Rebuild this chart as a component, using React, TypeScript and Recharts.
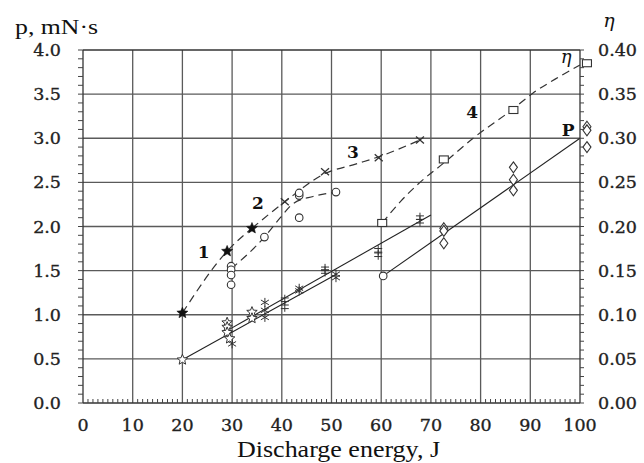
import React from 'react';
import { ComposedChart, XAxis, YAxis, Line, Scatter, ReferenceLine, ReferenceDot } from 'recharts';

// ---- η (right axis) measured points ----
const etaStars = [
  { x: 20, y: 0.102 }, { x: 29, y: 0.172 }, { x: 34, y: 0.198 },
];
const etaCircles = [
  { x: 29.8, y: 0.155 }, { x: 29.8, y: 0.151 }, { x: 29.8, y: 0.145 }, { x: 29.8, y: 0.134 },
  { x: 36.5, y: 0.188 }, { x: 43.5, y: 0.21 }, { x: 43.5, y: 0.235 }, { x: 43.5, y: 0.238 },
  { x: 50.9, y: 0.239 },
];
const etaCrosses = [
  { x: 40.6, y: 0.228 }, { x: 48.7, y: 0.262 }, { x: 59.5, y: 0.278 }, { x: 67.8, y: 0.298 },
];
const etaSquares = [
  { x: 60.2, y: 0.204 }, { x: 72.6, y: 0.276 }, { x: 86.6, y: 0.332 },
];
const etaSquaresEdge = [{ x: 101.4, y: 0.385 }];

// ---- η fitted dashed curves ----
const etaCurve1 = [
  { x: 20, y: 0.102 }, { x: 29, y: 0.172 }, { x: 34, y: 0.198 },
];
const etaCurve2 = [
  { x: 29.8, y: 0.152 }, { x: 36.5, y: 0.188 }, { x: 39.7, y: 0.21 }, { x: 42.3, y: 0.226 },
  { x: 46.3, y: 0.234 }, { x: 50.9, y: 0.239 },
];
const etaCurve3 = [
  { x: 34, y: 0.198 }, { x: 40.6, y: 0.228 }, { x: 48.7, y: 0.26 }, { x: 55, y: 0.271 },
  { x: 59.5, y: 0.279 }, { x: 67.8, y: 0.298 },
];
const etaCurve4 = [
  { x: 60.2, y: 0.204 }, { x: 64, y: 0.229 }, { x: 67.8, y: 0.25 }, { x: 72.6, y: 0.272 },
  { x: 78.5, y: 0.3 }, { x: 86.5, y: 0.333 }, { x: 90.5, y: 0.351 }, { x: 95, y: 0.367 },
  { x: 100, y: 0.383 },
];

// ---- P (left axis, mN·s) measured points ----
const pStars = [
  { x: 20, y: 0.49 }, { x: 29, y: 0.91 }, { x: 29, y: 0.86 }, { x: 29, y: 0.8 },
  { x: 29.5, y: 0.73 }, { x: 34, y: 1.03 }, { x: 34, y: 0.96 },
];
const pAsterisks = [
  { x: 30, y: 0.67 }, { x: 36.6, y: 1.14 }, { x: 36.6, y: 1.05 }, { x: 36.6, y: 0.97 },
  { x: 43.5, y: 1.3 }, { x: 43.5, y: 1.27 }, { x: 50.9, y: 1.46 }, { x: 50.9, y: 1.42 },
];
const pDaggers = [
  { x: 40.6, y: 1.17 }, { x: 40.6, y: 1.09 }, { x: 48.7, y: 1.52 }, { x: 48.7, y: 1.49 },
  { x: 59.4, y: 1.73 }, { x: 59.4, y: 1.68 }, { x: 67.8, y: 2.1 }, { x: 67.8, y: 2.06 },
];
const pCircle = [{ x: 60.4, y: 1.44 }];
const pDiamonds = [
  { x: 72.6, y: 1.98 }, { x: 72.6, y: 1.95 }, { x: 72.6, y: 1.81 },
  { x: 86.6, y: 2.67 }, { x: 86.6, y: 2.53 }, { x: 86.6, y: 2.41 },
];
const pDiamondsEdge = [
  { x: 101.4, y: 3.13 }, { x: 101.4, y: 3.09 }, { x: 101.4, y: 2.9 },
];

// ---- P fitted solid lines ----
const pLineA = [{ x: 20, y: 0.49 }, { x: 51, y: 1.46 }];
const pLineB = [{ x: 29, y: 0.82 }, { x: 70, y: 2.13 }];
const pLineC = [{ x: 60.4, y: 1.44 }, { x: 100, y: 3.0 }];

// ---- axes ----
const xMajor = [0, 10, 20, 30, 40, 50, 60, 70, 80, 90, 100];
const xTicks = Array.from({ length: 101 }, (_, i) => i);
const pMajor = [0, 0.5, 1, 1.5, 2, 2.5, 3, 3.5, 4];
const pTicks = Array.from({ length: 41 }, (_, i) => +(i * 0.1).toFixed(1));
const etaTicks = Array.from({ length: 41 }, (_, i) => +(i * 0.01).toFixed(2));

const curveLabels = [
  { x: 24.3, y: 1.71, text: '1' },
  { x: 35.2, y: 2.27, text: '2' },
  { x: 54.3, y: 2.84, text: '3' },
  { x: 78.3, y: 3.3, text: '4' },
  { x: 97.6, y: 3.09, text: 'P' },
];
const etaLabel = [{ x: 97.2, y: 3.9, text: 'η' }];

const TICK_FONT = "'DejaVu Serif', serif";
const INK = '#222';
const GRID = '#5a5a5a';

const tickTextProps = {
  fontFamily: TICK_FONT,
  fontSize: 17.5,
  fill: INK,
  stroke: INK,
  strokeWidth: 0.35,
};

const XTick = (props: any) => {
  const { x, y, payload } = props;
  const v = payload.value;
  const major = Math.round(v) % 10 === 0;
  return (
    <g>
      {!major && <line x1={x} x2={x} y1={y} y2={y - 4} stroke="#444" strokeWidth={1} />}
      {major && (
        <text x={x} y={y + 28} textAnchor="middle" {...tickTextProps}>
          {v}
        </text>
      )}
    </g>
  );
};

const LeftTick = (props: any) => {
  const { x, y, payload } = props;
  const v = payload.value;
  const major = Math.round(v * 10) % 5 === 0;
  return (
    <g>
      <line x1={x} x2={x - 5} y1={y} y2={y} stroke="#444" strokeWidth={1} />
      {major && (
        <text x={x - 22} y={y + 6} textAnchor="end" {...tickTextProps}>
          {v.toFixed(1)}
        </text>
      )}
    </g>
  );
};

const RightTick = (props: any) => {
  const { x, y, payload } = props;
  const v = payload.value;
  const major = Math.round(v * 100) % 5 === 0;
  return (
    <g>
      <line x1={x} x2={x + 4} y1={y} y2={y} stroke="#444" strokeWidth={1} />
      {major && (
        <text x={x + 18} y={y + 6} textAnchor="start" {...tickTextProps}>
          {v.toFixed(2)}
        </text>
      )}
    </g>
  );
};

const starPoints = (cx: number, cy: number, r: number) => {
  const pts: string[] = [];
  for (let i = 0; i < 10; i++) {
    const rr = i % 2 === 0 ? r : r * 0.45;
    const a = -Math.PI / 2 + (i * Math.PI) / 5;
    pts.push(`${cx + rr * Math.cos(a)},${cy + rr * Math.sin(a)}`);
  }
  return pts.join(' ');
};

const FilledStar = (p: any) => <polygon points={starPoints(p.cx, p.cy, 5.8)} fill="#111" stroke="#111" strokeWidth={0.6} />;
const OpenStar = (p: any) => <polygon points={starPoints(p.cx, p.cy, 5.5)} fill="#fff" stroke="#333" strokeWidth={1} />;
const OpenCircle = (p: any) => <circle cx={p.cx} cy={p.cy} r={3.8} fill="#fff" stroke="#333" strokeWidth={1.1} />;
const Cross = (p: any) => (
  <g stroke="#333" strokeWidth={1.3}>
    <line x1={p.cx - 4} y1={p.cy - 3.5} x2={p.cx + 4} y2={p.cy + 3.5} />
    <line x1={p.cx - 4} y1={p.cy + 3.5} x2={p.cx + 4} y2={p.cy - 3.5} />
  </g>
);
const OpenSquare = (p: any) => (
  <rect x={p.cx - 4.5} y={p.cy - 3.5} width={9} height={7} fill="#fff" stroke="#333" strokeWidth={1.1} />
);
const Asterisk = (p: any) => (
  <g stroke="#333" strokeWidth={1}>
    <line x1={p.cx} y1={p.cy - 4.5} x2={p.cx} y2={p.cy + 4.5} />
    <line x1={p.cx - 4} y1={p.cy - 2.4} x2={p.cx + 4} y2={p.cy + 2.4} />
    <line x1={p.cx - 4} y1={p.cy + 2.4} x2={p.cx + 4} y2={p.cy - 2.4} />
  </g>
);
const Dagger = (p: any) => (
  <g stroke="#333" strokeWidth={1}>
    <line x1={p.cx} y1={p.cy - 5} x2={p.cx} y2={p.cy + 5} />
    <line x1={p.cx - 4} y1={p.cy - 1.8} x2={p.cx + 4} y2={p.cy - 1.8} />
    <line x1={p.cx - 4} y1={p.cy + 1.8} x2={p.cx + 4} y2={p.cy + 1.8} />
  </g>
);
const OpenDiamond = (p: any) => (
  <polygon
    points={`${p.cx},${p.cy - 5.5} ${p.cx + 4},${p.cy} ${p.cx},${p.cy + 5.5} ${p.cx - 4},${p.cy}`}
    fill="#fff"
    stroke="#333"
    strokeWidth={1.1}
  />
);

const DASH = '8 5';

export default function App() {
  return (
    <div style={{ position: 'absolute', left: 0, top: 0, width: 644, height: 463, background: '#fff' }}>
      <ComposedChart width={644} height={463} margin={{ top: 50, right: 0, bottom: 0, left: 0 }}>
        <XAxis
          dataKey="x"
          type="number"
          domain={[0, 100]}
          ticks={xTicks}
          interval={0}
          tick={<XTick />}
          tickLine={false}
          tickSize={0}
          tickMargin={0}
          axisLine={{ stroke: '#333', strokeWidth: 1.3 }}
          height={60}
        />
        <YAxis
          yAxisId="p"
          dataKey="y"
          type="number"
          domain={[0, 4]}
          ticks={pTicks}
          interval={0}
          tick={<LeftTick />}
          tickLine={false}
          tickSize={0}
          tickMargin={0}
          axisLine={{ stroke: '#333', strokeWidth: 1.3 }}
          width={83}
        />
        <YAxis
          yAxisId="eta"
          dataKey="y"
          orientation="right"
          type="number"
          domain={[0, 0.4]}
          ticks={etaTicks}
          interval={0}
          tick={<RightTick />}
          tickLine={false}
          tickSize={0}
          tickMargin={0}
          axisLine={{ stroke: '#333', strokeWidth: 1.3 }}
          width={64}
        />

        {xMajor.slice(1, -1).map((v) => (
          <ReferenceLine key={`gx${v}`} x={v} yAxisId="p" stroke={GRID} strokeWidth={1.3} />
        ))}
        {pMajor.slice(1, -1).map((v) => (
          <ReferenceLine key={`gy${v}`} y={v} yAxisId="p" stroke={GRID} strokeWidth={1.3} />
        ))}
        <ReferenceLine y={4} yAxisId="p" stroke="#333" strokeWidth={1.3} />

        <Line data={pLineA} dataKey="y" yAxisId="p" type="linear" stroke="#222" strokeWidth={1.1} dot={false} isAnimationActive={false} />
        <Line data={pLineB} dataKey="y" yAxisId="p" type="linear" stroke="#222" strokeWidth={1.1} dot={false} isAnimationActive={false} />
        <Line data={pLineC} dataKey="y" yAxisId="p" type="linear" stroke="#222" strokeWidth={1.1} dot={false} isAnimationActive={false} />

        <Line data={etaCurve1} dataKey="y" yAxisId="eta" type="monotone" stroke="#333" strokeWidth={1.2} strokeDasharray={DASH} dot={false} isAnimationActive={false} />
        <Line data={etaCurve2} dataKey="y" yAxisId="eta" type="monotone" stroke="#333" strokeWidth={1.2} strokeDasharray={DASH} dot={false} isAnimationActive={false} />
        <Line data={etaCurve3} dataKey="y" yAxisId="eta" type="monotone" stroke="#333" strokeWidth={1.2} strokeDasharray={DASH} dot={false} isAnimationActive={false} />
        <Line data={etaCurve4} dataKey="y" yAxisId="eta" type="monotone" stroke="#333" strokeWidth={1.2} strokeDasharray={DASH} dot={false} isAnimationActive={false} />

        <Scatter data={pStars} dataKey="y" yAxisId="p" shape={OpenStar} isAnimationActive={false} />
        <Scatter data={pAsterisks} dataKey="y" yAxisId="p" shape={Asterisk} isAnimationActive={false} />
        <Scatter data={pDaggers} dataKey="y" yAxisId="p" shape={Dagger} isAnimationActive={false} />
        <Scatter data={pCircle} dataKey="y" yAxisId="p" shape={OpenCircle} isAnimationActive={false} />
        <Scatter data={pDiamonds} dataKey="y" yAxisId="p" shape={OpenDiamond} isAnimationActive={false} />

        <Scatter data={etaStars} dataKey="y" yAxisId="eta" shape={FilledStar} isAnimationActive={false} />
        <Scatter data={etaCircles} dataKey="y" yAxisId="eta" shape={OpenCircle} isAnimationActive={false} />
        <Scatter data={etaCrosses} dataKey="y" yAxisId="eta" shape={Cross} isAnimationActive={false} />
        <Scatter data={etaSquares} dataKey="y" yAxisId="eta" shape={OpenSquare} isAnimationActive={false} />

        {pDiamondsEdge.map((d, i) => (
          <ReferenceDot key={`pde${i}`} x={d.x} y={d.y} yAxisId="p" r={4} ifOverflow="visible" shape={OpenDiamond} />
        ))}
        {etaSquaresEdge.map((d, i) => (
          <ReferenceDot key={`ese${i}`} x={d.x} y={d.y} yAxisId="eta" r={4} ifOverflow="visible" shape={OpenSquare} />
        ))}

        {curveLabels.map((l) => (
          <ReferenceDot
            key={`lbl${l.text}`}
            x={l.x}
            y={l.y}
            yAxisId="p"
            r={1}
            ifOverflow="visible"
            shape={(p: any) => (
              <text x={p.cx} y={p.cy + 6} textAnchor="middle" fontFamily={TICK_FONT} fontWeight="bold" fontSize={17} fill="#111">
                {l.text}
              </text>
            )}
          />
        ))}
        {etaLabel.map((l) => (
          <ReferenceDot
            key="lbleta"
            x={l.x}
            y={l.y}
            yAxisId="p"
            r={1}
            ifOverflow="visible"
            shape={(p: any) => (
              <text x={p.cx} y={p.cy + 4} textAnchor="middle" fontFamily={TICK_FONT} fontStyle="italic" fontSize={18} fill="#111">
                {l.text}
              </text>
            )}
          />
        ))}
      </ComposedChart>
      <svg width={644} height={463} style={{ position: 'absolute', left: 0, top: 0, pointerEvents: 'none' }}>
        <text x={15} y={34} fontFamily="'Liberation Serif', serif" fontSize={21} fill="#111" textLength={83} lengthAdjust="spacingAndGlyphs">
          p, mN·s
        </text>
        <text x={609} y={27} textAnchor="middle" fontFamily="'DejaVu Serif', serif" fontStyle="italic" fontSize={19} fill="#111">
          η
        </text>
        <text x={237} y={457} fontFamily="'Liberation Serif', serif" fontSize={24} fill="#111" textLength={203} lengthAdjust="spacingAndGlyphs">
          Discharge energy, J
        </text>
      </svg>
    </div>
  );
}
